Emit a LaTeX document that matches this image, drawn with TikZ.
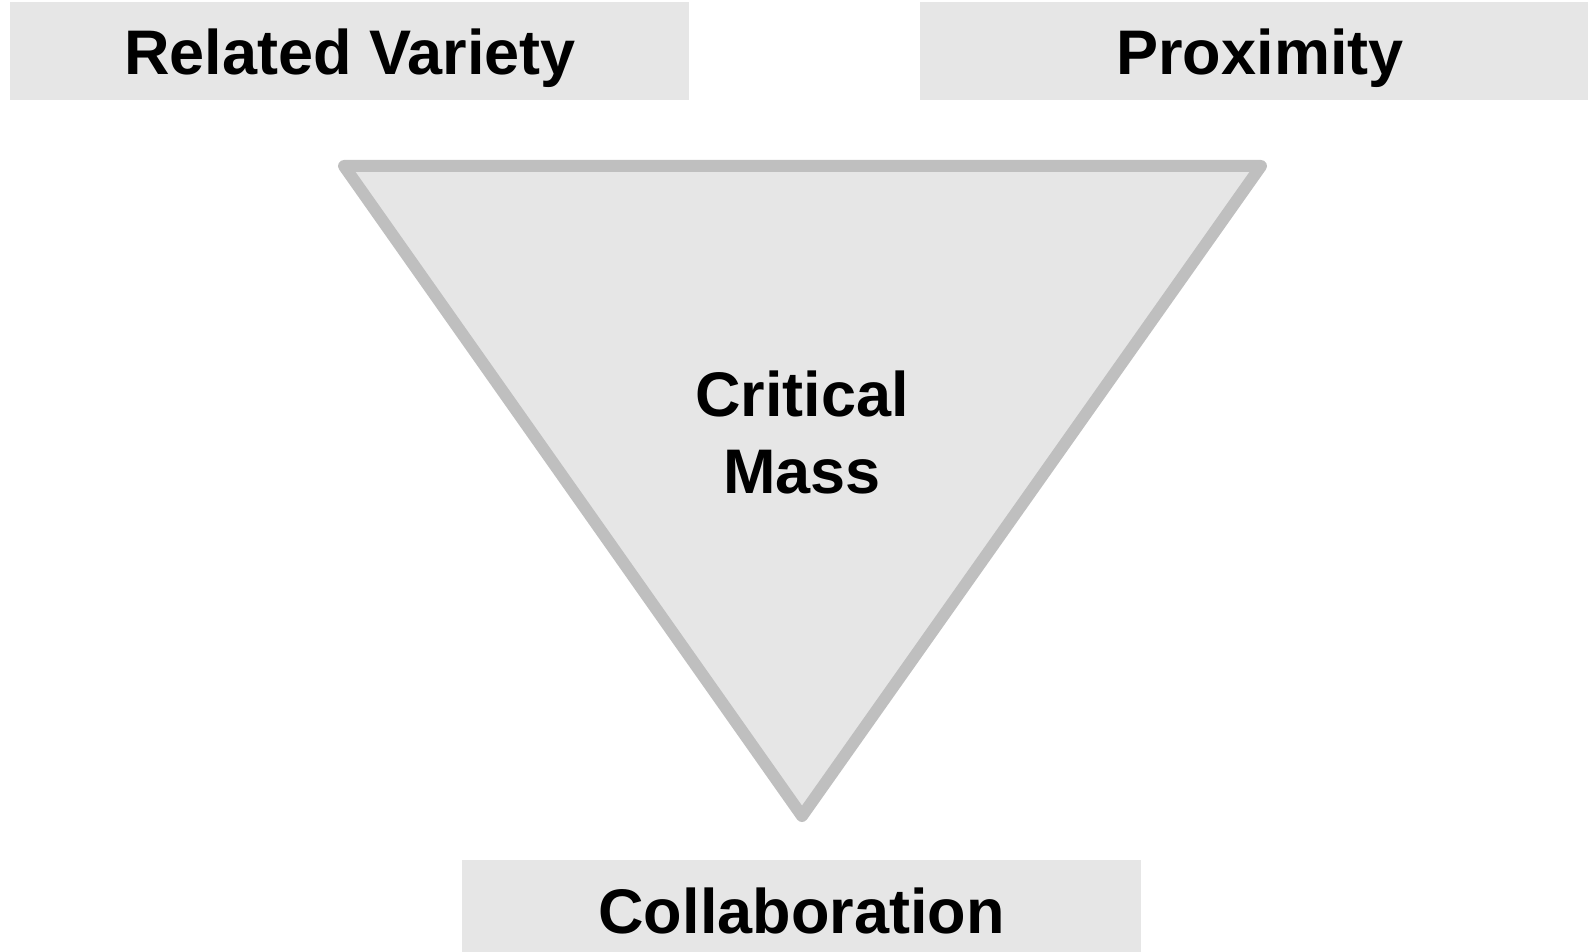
\documentclass[tikz,border=0pt]{standalone}
\usepackage{fontspec}
\setmainfont{Liberation Sans}
\definecolor{boxfill}{HTML}{E6E6E6}
\definecolor{triline}{HTML}{BFBFBF}
\begin{document}
\begin{tikzpicture}[x=1pt,y=-1pt,
  lbl/.style={font=\bfseries\fontsize{63}{77}\selectfont, text=black, align=center},
  boxnode/.style={fill=boxfill, draw=none, inner sep=0pt}]
\useasboundingbox (0,0) rectangle (1588,952);
% boxes
\node[boxnode, minimum width=679pt, minimum height=98pt, anchor=north west] (rvbox) at (10,2) {};
\node[boxnode, minimum width=668pt, minimum height=98pt, anchor=north west] (pxbox) at (920,2) {};
\node[boxnode, minimum width=679pt, minimum height=92pt, anchor=north west] (cobox) at (462,860) {};
% triangle
\coordinate (tl) at (344,166);
\coordinate (tr) at (1261,166);
\coordinate (tb) at (802,816);
\draw[triline, fill=boxfill, line width=12pt, line join=round] (tl) -- (tr) -- (tb) -- cycle;
% labels
\node[lbl, anchor=base] (rv) at (350,75) {Related Variety};
\node[lbl, anchor=base] (px) at (1260,75) {Proximity};
\node[lbl, anchor=base] (co) at (801.5,933) {Collaboration};
\node[lbl, anchor=base] (cm1) at (802,416) {Critical};
\node[lbl, anchor=base] (cm2) at (802,493) {Mass};
\end{tikzpicture}
\end{document}
